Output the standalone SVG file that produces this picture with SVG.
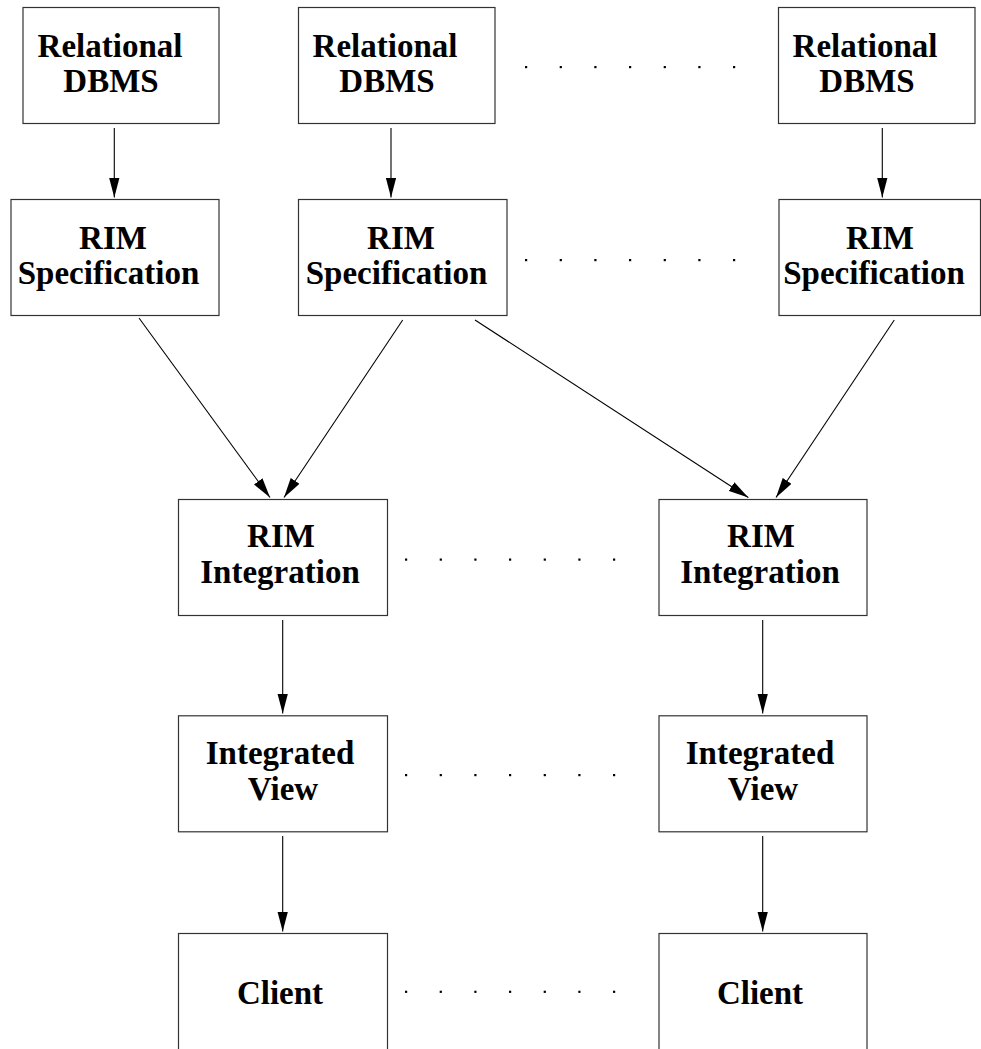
<svg xmlns="http://www.w3.org/2000/svg" width="981" height="1049" viewBox="0 0 981 1049">
  <style>
    .box { fill: #fff; stroke: #333; stroke-width: 1.2; }
    .lbl { font-family: "Liberation Serif", "Times New Roman", serif; font-weight: bold; font-size: 33px; fill: #000; text-anchor: middle; }
    .edge { stroke: #000; stroke-width: 1.1; fill: none; marker-end: url(#head); }
    .dot { fill: #000; }
  </style>
  <defs>
    <marker id="head" markerUnits="userSpaceOnUse" markerWidth="21" markerHeight="11" refX="20" refY="5.25" orient="auto">
      <path d="M0,0 L20,5.25 L0,10.5 z" fill="#000"/>
    </marker>
    <g id="dotrow">
      <rect class="dot" x="-1" y="-1" width="2.2" height="2.2"/>
      <rect class="dot" x="33.7" y="-1" width="2.2" height="2.2"/>
      <rect class="dot" x="68.3" y="-1" width="2.2" height="2.2"/>
      <rect class="dot" x="103" y="-1" width="2.2" height="2.2"/>
      <rect class="dot" x="137.7" y="-1" width="2.2" height="2.2"/>
      <rect class="dot" x="172.3" y="-1" width="2.2" height="2.2"/>
      <rect class="dot" x="207" y="-1" width="2.2" height="2.2"/>
    </g>
  </defs>
  <rect width="981" height="1049" fill="#fff"/>

  <!-- source databases -->
  <g id="dbms1">
    <rect class="box" x="23" y="7.5" width="196" height="116"/>
    <text class="lbl" x="110" y="57">Relational</text>
    <text class="lbl" x="111" y="92">DBMS</text>
  </g>
  <g id="dbms2">
    <rect class="box" x="298.5" y="7.5" width="196.5" height="116"/>
    <text class="lbl" x="385" y="57">Relational</text>
    <text class="lbl" x="387" y="92">DBMS</text>
  </g>
  <g id="dbms3">
    <rect class="box" x="778.5" y="7.5" width="196.5" height="116"/>
    <text class="lbl" x="865" y="57">Relational</text>
    <text class="lbl" x="867" y="92">DBMS</text>
  </g>

  <!-- RIM specifications -->
  <g id="spec1">
    <rect class="box" x="11" y="199.5" width="208" height="116"/>
    <text class="lbl" x="113" y="248.5">RIM</text>
    <text class="lbl" x="108.5" y="283.5">Specification</text>
  </g>
  <g id="spec2">
    <rect class="box" x="298.5" y="199.5" width="208.5" height="116"/>
    <text class="lbl" x="401" y="248.5">RIM</text>
    <text class="lbl" x="396.5" y="283.5">Specification</text>
  </g>
  <g id="spec3">
    <rect class="box" x="779" y="199.5" width="201.5" height="116"/>
    <text class="lbl" x="880" y="248.5">RIM</text>
    <text class="lbl" x="874" y="283.5">Specification</text>
  </g>

  <!-- RIM integrations -->
  <g id="integ1">
    <rect class="box" x="178.5" y="499.5" width="209" height="116"/>
    <text class="lbl" x="281" y="547">RIM</text>
    <text class="lbl" x="280" y="583">Integration</text>
  </g>
  <g id="integ2">
    <rect class="box" x="659" y="499.5" width="208" height="116"/>
    <text class="lbl" x="761" y="547">RIM</text>
    <text class="lbl" x="760" y="583">Integration</text>
  </g>

  <!-- integrated views -->
  <g id="view1">
    <rect class="box" x="178.5" y="715.8" width="209" height="116"/>
    <text class="lbl" x="280" y="763.5">Integrated</text>
    <text class="lbl" x="283" y="800">View</text>
  </g>
  <g id="view2">
    <rect class="box" x="659" y="715.8" width="208" height="116"/>
    <text class="lbl" x="760" y="763.5">Integrated</text>
    <text class="lbl" x="763" y="800">View</text>
  </g>

  <!-- clients (boxes run off the bottom edge) -->
  <g id="client1">
    <rect class="box" x="178.5" y="933.5" width="209" height="140"/>
    <text class="lbl" x="280" y="1004">Client</text>
  </g>
  <g id="client2">
    <rect class="box" x="659" y="933.5" width="208" height="140"/>
    <text class="lbl" x="760" y="1004">Client</text>
  </g>

  <!-- ellipsis rows between columns -->
  <g id="ellipses">
    <use href="#dotrow" x="526" y="67"/>
    <use href="#dotrow" x="526" y="260"/>
    <use href="#dotrow" x="406" y="559.5"/>
    <use href="#dotrow" x="406" y="775"/>
    <use href="#dotrow" x="406" y="991.7"/>
  </g>

  <g id="connectors">
    <line class="edge" x1="114.3" y1="128" x2="114.3" y2="197.5"/>
    <line class="edge" x1="391" y1="128" x2="391" y2="197.5"/>
    <line class="edge" x1="882.3" y1="128" x2="882.3" y2="197.5"/>

    <line class="edge" x1="139" y1="318" x2="270" y2="497.5"/>
    <line class="edge" x1="402.7" y1="320" x2="284" y2="497.5"/>
    <line class="edge" x1="475" y1="320" x2="748.3" y2="497.5"/>
    <line class="edge" x1="894.3" y1="320" x2="776" y2="497.5"/>

    <line class="edge" x1="282.7" y1="620" x2="282.7" y2="713.5"/>
    <line class="edge" x1="762.7" y1="620" x2="762.7" y2="713.5"/>
    <line class="edge" x1="282.7" y1="836" x2="282.7" y2="931.5"/>
    <line class="edge" x1="762.7" y1="836" x2="762.7" y2="931.5"/>
  </g>
</svg>
